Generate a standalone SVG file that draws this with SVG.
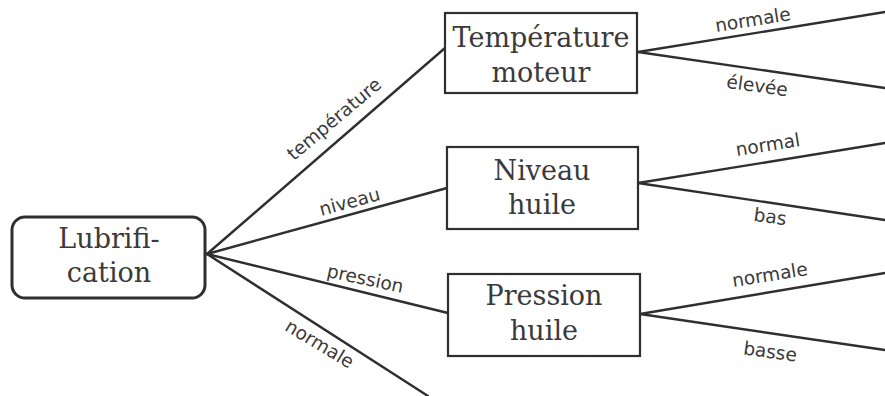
<svg xmlns="http://www.w3.org/2000/svg" width="885" height="396" viewBox="0 0 885 396">
  <style>
    .box { fill: #ffffff; stroke: #2f2f2f; stroke-width: 2.2; }
    .root { fill: #ffffff; stroke: #2f2f2f; stroke-width: 3; }
    .edge { stroke: #2f2f2f; stroke-width: 2.4; fill: none; stroke-linecap: round; }
    .node-text { font-family: "DejaVu Serif", "Liberation Serif", serif; font-size: 27px; fill: #3a3a3a; text-anchor: middle; }
    .lbl { font-family: "DejaVu Sans", "Liberation Sans", sans-serif; font-size: 18.5px; fill: #3a3a3a; text-anchor: middle; }
  </style>
  <rect width="885" height="396" fill="#ffffff"/>

  <!-- connectors -->
  <g id="connectors">
    <line class="edge" x1="207" y1="254" x2="445" y2="48"/>
    <line class="edge" x1="207" y1="254" x2="447" y2="188"/>
    <line class="edge" x1="207" y1="254" x2="448" y2="313"/>
    <line class="edge" x1="207" y1="254" x2="428" y2="396"/>

    <line class="edge" x1="638" y1="52" x2="885" y2="12"/>
    <line class="edge" x1="638" y1="52" x2="885" y2="88"/>
    <line class="edge" x1="638" y1="183" x2="885" y2="143"/>
    <line class="edge" x1="638" y1="183" x2="885" y2="220"/>
    <line class="edge" x1="640" y1="314" x2="885" y2="273"/>
    <line class="edge" x1="640" y1="314" x2="885" y2="350"/>

    <text class="lbl" transform="translate(335 120) rotate(-40)" y="5">température</text>
    <text class="lbl" transform="translate(350 203) rotate(-15)" y="5">niveau</text>
    <text class="lbl" transform="translate(365 280) rotate(12)" y="5">pression</text>
    <text class="lbl" transform="translate(319 345) rotate(31)" y="5">normale</text>

    <text class="lbl" transform="translate(753 21) rotate(-9)" y="5">normale</text>
    <text class="lbl" transform="translate(757 87) rotate(8)" y="5">élevée</text>
    <text class="lbl" transform="translate(768 146) rotate(-9)" y="5">normal</text>
    <text class="lbl" transform="translate(770 218) rotate(8)" y="5">bas</text>
    <text class="lbl" transform="translate(770 276) rotate(-9)" y="5">normale</text>
    <text class="lbl" transform="translate(770 353) rotate(8)" y="5">basse</text>
  </g>

  <!-- nodes -->
  <g id="lubrification">
    <rect class="root" x="12" y="217" width="193" height="81" rx="13"/>
    <text class="node-text" x="109" y="248">Lubrifi-</text>
    <text class="node-text" x="109" y="282">cation</text>
  </g>

  <g id="temperature-moteur">
    <rect class="box" x="445" y="13" width="192" height="80"/>
    <text class="node-text" x="541" y="47">Température</text>
    <text class="node-text" x="541" y="82">moteur</text>
  </g>

  <g id="niveau-huile">
    <rect class="box" x="447" y="147" width="191" height="82"/>
    <text class="node-text" x="542" y="180">Niveau</text>
    <text class="node-text" x="542" y="214">huile</text>
  </g>

  <g id="pression-huile">
    <rect class="box" x="448" y="274" width="192" height="82"/>
    <text class="node-text" x="544" y="305">Pression</text>
    <text class="node-text" x="544" y="340">huile</text>
  </g>
</svg>
